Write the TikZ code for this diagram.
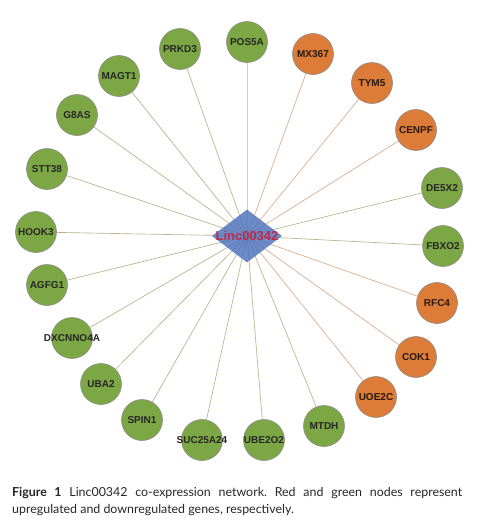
\documentclass[tikz,border=0pt]{standalone}
\usepackage{fontspec}
\setmainfont{Lato}
\newfontfamily\genefont{Liberation Sans}
\usetikzlibrary{shapes.geometric,backgrounds}

\definecolor{downgreen}{RGB}{125,167,68}
\definecolor{upred}{RGB}{220,124,56}
\definecolor{hubblue}{RGB}{82,117,190}
\definecolor{hubtext}{RGB}{190,42,72}
\definecolor{greenedge}{RGB}{182,178,140}
\definecolor{rededge}{RGB}{218,170,135}

\begin{document}
\begin{tikzpicture}[x=1pt,y=-1pt,
    gene/.style={circle,draw=black!45,line width=0.6pt,minimum size=41pt,inner sep=0pt,
      font=\genefont\bfseries\fontsize{10}{10}\selectfont,text=black!85},
    down/.style={gene,fill=downgreen},
    up/.style={gene,fill=upred,text=black!80!brown},
    hub/.style={diamond,fill=hubblue,fill opacity=0.85,text opacity=1,minimum width=70pt,
      minimum height=53pt,inner sep=0pt,text=hubtext,font=\genefont\bfseries\fontsize{13}{13}\selectfont},
    dedge/.style={draw=greenedge,line width=0.65pt},
    uedge/.style={draw=rededge,line width=0.65pt}]
  \useasboundingbox (0,0) rectangle (488,531);
  % hub
  \node[hub] at (247,236) (linc) {\makebox[0pt]{Linc00342}};
  % downregulated genes
  \node[down] at (247,42) (pos5a) {POS5A};
  \node[down] at (180,49) (prkd3) {PRKD3};
  \node[down] at (119,76) (magt1) {MAGT1};
  \node[down] at (77,115) (g8as) {G8AS};
  \node[down] at (47,169) (stt38) {STT38};
  \node[down] at (36,232) (hook3) {HOOK3};
  \node[down] at (47,285) (agfg1) {AGFG1};
  \node[down] at (72,338) (dxcnno4a) {\makebox[0pt]{DXCNNO4A}};
  \node[down] at (101,384) (uba2) {UBA2};
  \node[down] at (142,420) (spin1) {SPIN1};
  \node[down] at (202,440) (suc25a24) {\makebox[0pt]{SUC25A24}};
  \node[down] at (264,440) (ube2o2) {UBE2O2};
  \node[down] at (324,426) (mtdh) {MTDH};
  \node[down] at (443,246) (fbxo2) {FBXO2};
  \node[down] at (442,188) (de5x2) {DE5X2};
  % upregulated genes
  \node[up] at (313,54) (mx367) {MX367};
  \node[up] at (372,83) (tym5) {TYM5};
  \node[up] at (416,130) (cenpf) {CENPF};
  \node[up] at (437,303) (rfc4) {RFC4};
  \node[up] at (416,357) (cok1) {COK1};
  \node[up] at (376,397) (uoe2c) {UOE2C};
  % edges
  \begin{scope}[on background layer]
    \draw[draw=black!20,line width=0.65pt] (linc.center) -- (pos5a);
    \foreach \g in {prkd3,magt1,g8as,stt38,hook3,agfg1,dxcnno4a,uba2,spin1,suc25a24,ube2o2,mtdh,fbxo2,de5x2}
      \draw[dedge] (linc.center) -- (\g);
    \foreach \g in {mx367,tym5,cenpf,rfc4,cok1,uoe2c}
      \draw[uedge] (linc.center) -- (\g);
  \end{scope}
  % caption
  \node[anchor=north west,inner sep=0pt,text width=450pt,align=justify,text=black!85,
    font=\fontsize{12.4}{17}\selectfont\frenchspacing] at (12,487) (caption)
    {\textbf{Figure 1} Linc00342 co-expression network. Red and green nodes represent\linebreak upregulated and downregulated genes, respectively.};
\end{tikzpicture}
\end{document}
